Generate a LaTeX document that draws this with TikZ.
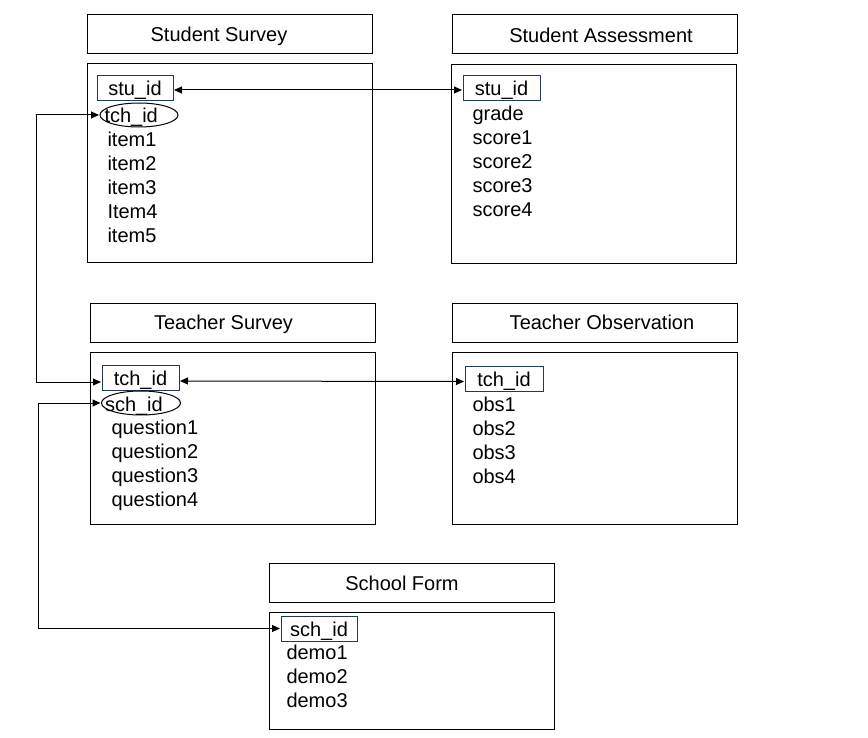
\documentclass[tikz,border=0pt]{standalone}
\usepackage{fontspec}
\setmainfont{Liberation Sans}
\usetikzlibrary{shapes.geometric,arrows.meta}
\definecolor{keyblue}{RGB}{31,56,100}

\begin{document}
\begin{tikzpicture}[x=1pt,y=-1pt,line width=1pt,>={Stealth[length=8pt,width=7pt,inset=0pt]},font=\fontsize{20}{24}\selectfont]
      \tikzstyle{tbl}=[draw,minimum width=285pt,inner sep=0pt]
      \tikzstyle{key}=[draw=keyblue,minimum height=25pt,inner sep=0pt,text height=16.5pt,text depth=1.5pt]
      \tikzstyle{oval}=[ellipse,draw,minimum width=78pt,minimum height=24pt,inner sep=0pt]
      \tikzstyle{field}=[anchor=base west,inner sep=0pt]
      \tikzstyle{link}=[<->,shorten >=0.5pt,shorten <=0.5pt]
      \useasboundingbox (0,0) rectangle (868,738);

      % table headers
      \node [tbl,minimum height=39pt] (ssT) at (229.5,34.5) {};
      \node [tbl,minimum height=39pt] (saT) at (594.5,34.5) {};
      \node [tbl,minimum height=38pt] (tsT) at (232.5,323) {};
      \node [tbl,minimum height=38pt] (toT) at (594.5,323) {};
      \node [tbl,minimum height=39pt] (sfT) at (411.5,582.5) {};
      \node (ssN) at (219,36) {Student Survey};
      \node (saN) at (601,35) {Student Assessment};
      \node (tsN) at (223.5,324) {Teacher Survey};
      \node (toN) at (602,322.5) {Teacher Observation};
      \node (sfN) at (402,583) {School Form};

      % table bodies
      \node [tbl,minimum height=199pt] (ssB) at (229.5,163.5) {};
      \node [tbl,minimum height=199pt] (saB) at (593.5,164.5) {};
      \node [tbl,minimum height=172pt] (tsB) at (232.5,438) {};
      \node [tbl,minimum height=172pt] (toB) at (594.5,438) {};
      \node [tbl,minimum height=117pt] (sfB) at (411.5,670.5) {};

      % Student Survey
      \node [key,minimum width=76pt] (ssStu) at (135,88.5) {stu\_id};
      \node [oval] (ssTch) at (139,115) {};
      \node [field] (ssTchN) at (104,123) {tch\_id};
      \node [field] (ss1) at (107,147) {item1};
      \node [field] (ss2) at (107,171) {item2};
      \node [field] (ss3) at (107,195) {item3};
      \node [field] (ss4) at (107,219) {Item4};
      \node [field] (ss5) at (107,243) {item5};

      % Student Assessment
      \node [key,minimum width=77pt] (saStu) at (501.5,88.5) {stu\_id};
      \node [field] (sa1) at (472,120.5) {grade};
      \node [field] (sa2) at (472,144.5) {score1};
      \node [field] (sa3) at (472,168.5) {score2};
      \node [field] (sa4) at (472,192.5) {score3};
      \node [field] (sa5) at (472,216.5) {score4};

      % Teacher Survey
      \node [key,minimum width=77pt] (tsTch) at (140.5,378) {tch\_id};
      \node [oval,minimum width=79pt] (tsSch) at (141,403) {};
      \node [field] (tsSchN) at (104.5,411) {sch\_id};
      \node [field] (ts1) at (111,434.5) {question1};
      \node [field] (ts2) at (111,458.5) {question2};
      \node [field] (ts3) at (111,482.5) {question3};
      \node [field] (ts4) at (111,506.5) {question4};

      % Teacher Observation
      \node [key,minimum width=78pt] (toTch) at (504,378.5) {tch\_id};
      \node [field] (to1) at (472,411.5) {obs1};
      \node [field] (to2) at (472,435.5) {obs2};
      \node [field] (to3) at (472,459.5) {obs3};
      \node [field] (to4) at (472,483.5) {obs4};

      % School Form
      \node [key,minimum width=76pt] (sfSch) at (319,628.5) {sch\_id};
      \node [field] (sf1) at (286,659) {demo1};
      \node [field] (sf2) at (286,683) {demo2};
      \node [field] (sf3) at (286,707) {demo3};

      % links
      \draw [link] ([yshift=-1.5pt]ssStu.east) -- ([yshift=-1.5pt]saStu.west);
      \draw [link] ([yshift=-3pt]tsTch.east) -- ([yshift=-3pt]toTch.west);
      \draw [link] (ssTch.west) -- ++(-63,0) |- ([yshift=-4pt]tsTch.west);
      \draw [link] (tsSch.west) -- ++(-63,0) |- (sfSch.west);
\end{tikzpicture}
\end{document}
